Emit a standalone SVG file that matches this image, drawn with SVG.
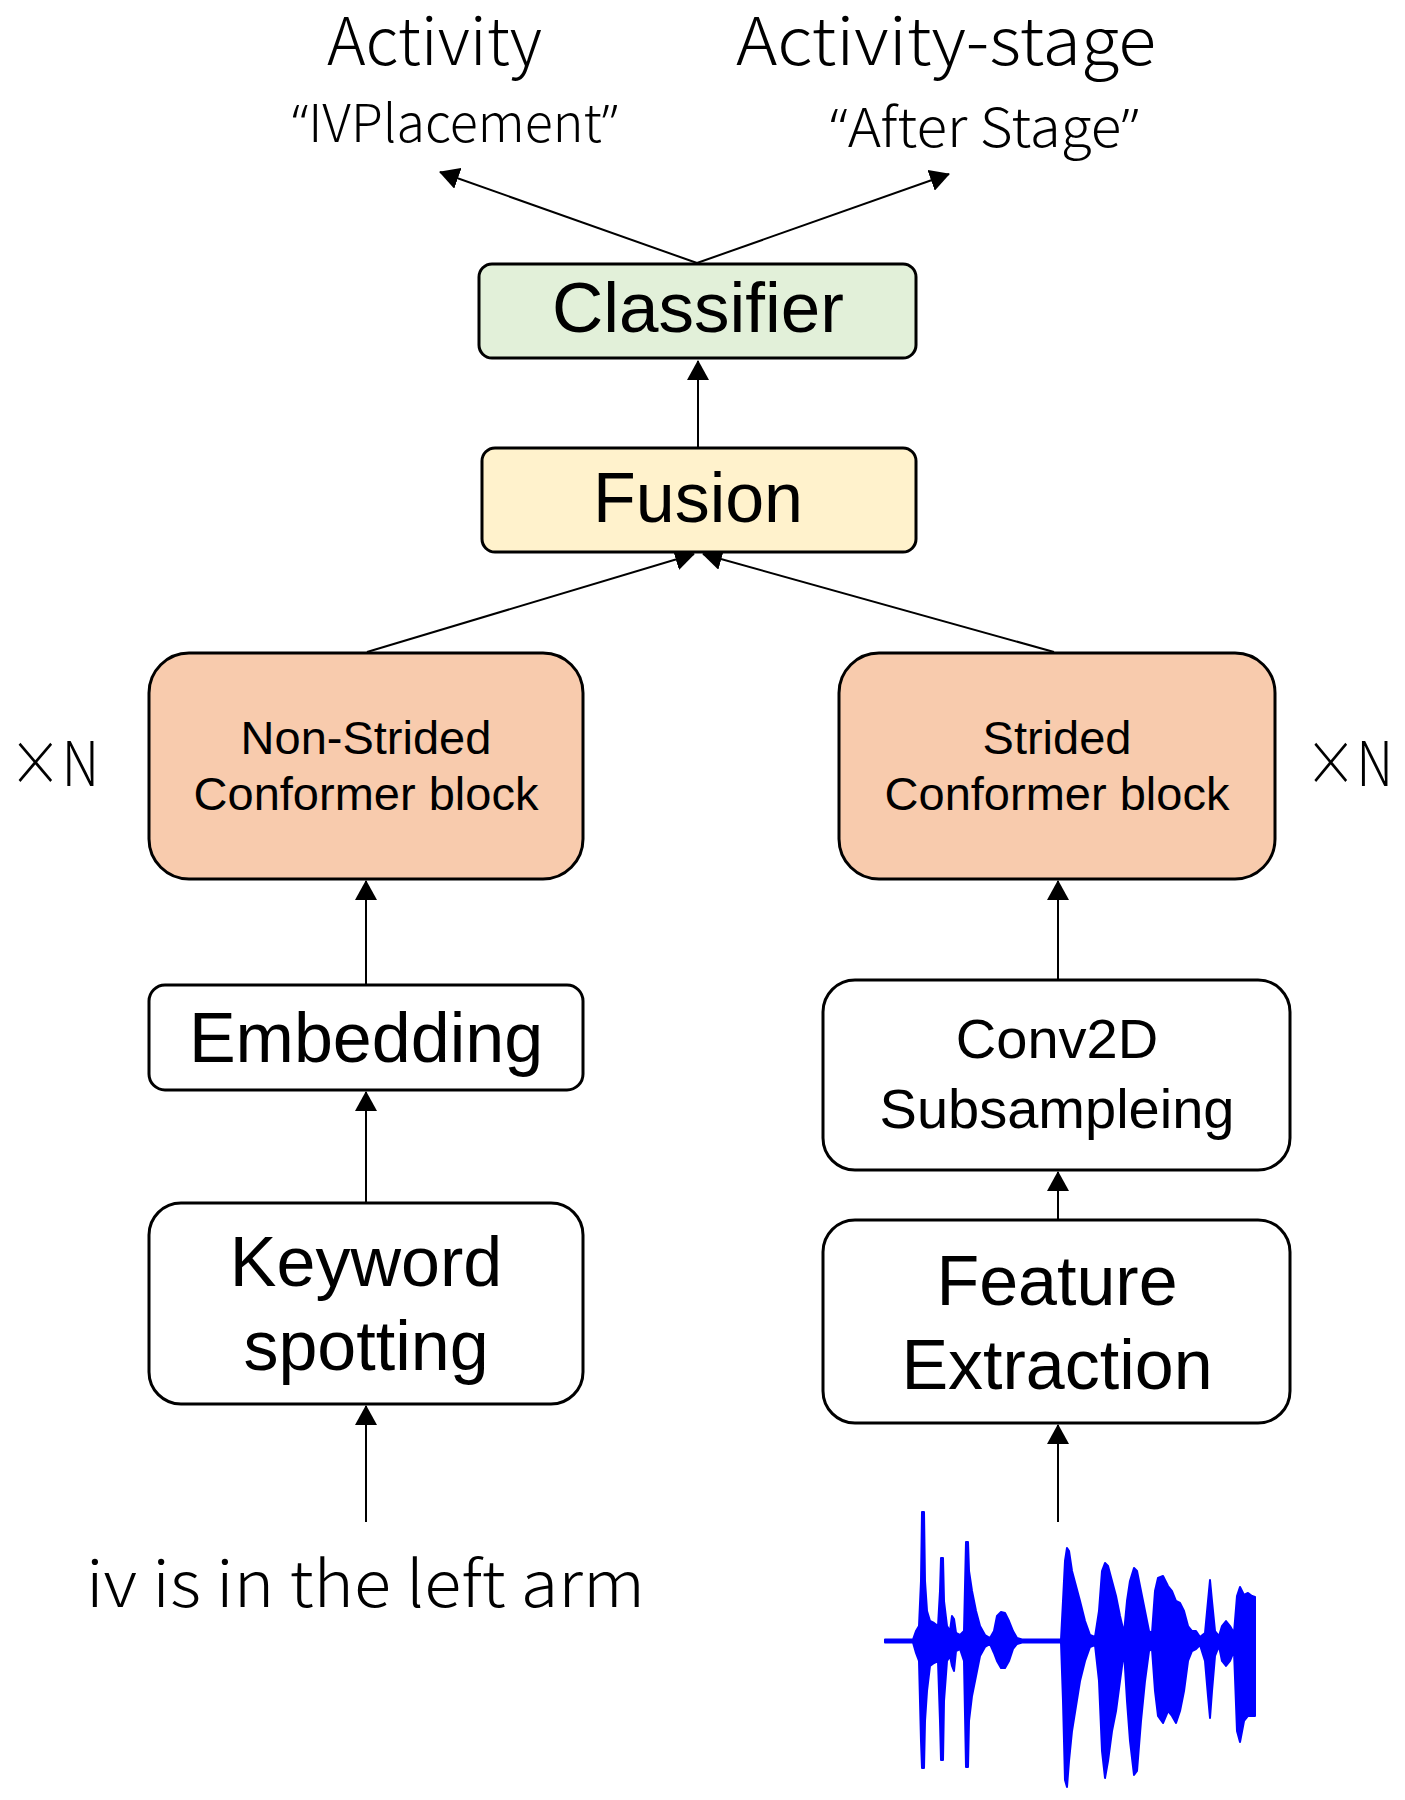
<svg xmlns="http://www.w3.org/2000/svg" width="1405" height="1800" viewBox="0 0 1405 1800">
<style>
.box{stroke:#000;stroke-width:3}
.w{fill:#fff}
.cls{fill:#e2f0d9}
.fus{fill:#fff2cc}
.conf{fill:#f8cbad}
.t{font-family:"Liberation Sans",Arial,sans-serif;fill:#000;text-anchor:middle}
.l{font-family:"Noto Sans CJK SC","Noto Sans",sans-serif;font-weight:300;fill:#000}
.q{font-family:"Noto Sans","Liberation Sans",sans-serif;font-weight:300}
.c{stroke:#000;stroke-width:2;fill:none;marker-end:url(#ah)}
</style>
<defs>
<marker id="ah" viewBox="0 0 20 22" markerWidth="20" markerHeight="22" refX="19" refY="11" orient="auto" markerUnits="userSpaceOnUse">
<path d="M0,0 L20,11 L0,22 Z" fill="#000"/>
</marker>
</defs>
<rect width="1405" height="1800" fill="#fff"/>

<g id="labels">
<text class="l" x="327" y="65" font-size="66" textLength="215" lengthAdjust="spacingAndGlyphs">Activity</text>
<text class="l" x="736" y="65" font-size="66" textLength="420" lengthAdjust="spacingAndGlyphs">Activity-stage</text>
<text class="l" x="292" y="142" font-size="52" textLength="326" lengthAdjust="spacingAndGlyphs"><tspan class="q">“</tspan>IVPlacement<tspan class="q">”</tspan></text>
<text class="l" x="830" y="147" font-size="54" textLength="309" lengthAdjust="spacingAndGlyphs"><tspan class="q">“</tspan>After Stage<tspan class="q">”</tspan></text>
<text class="l" x="9" y="786" font-size="62" textLength="90" lengthAdjust="spacingAndGlyphs">×N</text>
<text class="l" x="1305" y="786" font-size="62" textLength="88" lengthAdjust="spacingAndGlyphs">×N</text>
<text class="l" x="86" y="1607" font-size="64" textLength="559" lengthAdjust="spacingAndGlyphs">iv is in the left arm</text>
</g>

<g id="connectors">
<line class="c" x1="697" y1="263" x2="440" y2="172"/>
<line class="c" x1="697" y1="263" x2="949" y2="174"/>
<line class="c" x1="698" y1="448" x2="698" y2="361"/>
<line class="c" x1="367" y1="652" x2="694" y2="554"/>
<line class="c" x1="1054" y1="652" x2="703" y2="554"/>
<line class="c" x1="366" y1="985" x2="366" y2="881"/>
<line class="c" x1="366" y1="1203" x2="366" y2="1092"/>
<line class="c" x1="366" y1="1522" x2="366" y2="1406"/>
<line class="c" x1="1058" y1="980" x2="1058" y2="881"/>
<line class="c" x1="1058" y1="1220" x2="1058" y2="1172"/>
<line class="c" x1="1058" y1="1522" x2="1058" y2="1425"/>
</g>

<g id="classifier">
<rect class="box cls" x="479" y="264" width="437" height="94" rx="13"/>
<text class="t" x="698" y="332" font-size="71">Classifier</text>
</g>
<g id="fusion">
<rect class="box fus" x="482" y="448" width="434" height="104" rx="13"/>
<text class="t" x="698" y="522" font-size="70">Fusion</text>
</g>
<g id="nonstrided">
<rect class="box conf" x="149" y="653" width="434" height="226" rx="40"/>
<text class="t" x="366" y="754" font-size="47">Non-Strided</text>
<text class="t" x="366" y="810" font-size="47">Conformer block</text>
</g>
<g id="strided">
<rect class="box conf" x="839" y="653" width="436" height="226" rx="40"/>
<text class="t" x="1057" y="754" font-size="47">Strided</text>
<text class="t" x="1057" y="810" font-size="47">Conformer block</text>
</g>
<g id="embedding">
<rect class="box w" x="149" y="985" width="434" height="105" rx="16"/>
<text class="t" x="366" y="1062" font-size="70">Embedding</text>
</g>
<g id="keyword">
<rect class="box w" x="149" y="1203" width="434" height="201" rx="32"/>
<text class="t" x="366" y="1286" font-size="70">Keyword</text>
<text class="t" x="366" y="1370" font-size="70">spotting</text>
</g>
<g id="conv2d">
<rect class="box w" x="823" y="980" width="467" height="190" rx="32"/>
<text class="t" x="1057" y="1058" font-size="56">Conv2D</text>
<text class="t" x="1057" y="1128" font-size="56">Subsampleing</text>
</g>
<g id="feature">
<rect class="box w" x="823" y="1220" width="467" height="203" rx="32"/>
<text class="t" x="1057" y="1305" font-size="70">Feature</text>
<text class="t" x="1057" y="1389" font-size="70">Extraction</text>
</g>

<g id="waveform">
<path fill="#0000ff" stroke="#0000ff" stroke-width="2" stroke-linejoin="round" d="M885,1639.5 L913,1639.5 L916,1631 L919,1626 L921,1581 L922,1512 L924,1512 L925,1581 L927,1611 L930,1621 L934,1623 L938,1626 L940,1591 L941,1558 L943,1558 L944,1601 L947,1626 L950,1631 L952,1616 L954,1619 L956,1633 L960,1635 L964,1631 L966,1542 L968,1542 L969,1571 L972,1591 L976,1611 L980,1626 L985,1635 L990,1638 L994,1631 L997,1616 L1001,1612 L1005,1613 L1009,1621 L1013,1631 L1017,1638 L1022,1639.5 L1061,1639.5 L1063,1601 L1065,1561 L1067,1548 L1069,1551 L1072,1571 L1076,1586 L1080,1601 L1085,1621 L1090,1635 L1095,1637 L1099,1611 L1102,1571 L1105,1563 L1108,1566 L1112,1581 L1116,1596 L1120,1616 L1124,1633 L1127,1601 L1130,1581 L1134,1568 L1137,1571 L1141,1591 L1145,1611 L1149,1631 L1152,1633 L1155,1591 L1158,1578 L1163,1576 L1168,1586 L1172,1591 L1176,1601 L1180,1603 L1184,1611 L1188,1626 L1192,1631 L1196,1631 L1200,1637 L1205,1633 L1208,1601 L1210,1580 L1212,1601 L1215,1631 L1219,1636 L1222,1626 L1226,1621 L1230,1626 L1234,1633 L1237,1596 L1240,1587 L1244,1595 L1248,1593 L1252,1596 L1255,1597 L1255,1716 L1252,1716 L1248,1716 L1244,1721 L1240,1742 L1237,1731 L1234,1651 L1230,1661 L1226,1666 L1222,1661 L1219,1646 L1215,1656 L1212,1691 L1210,1718 L1208,1696 L1205,1661 L1200,1645 L1196,1649 L1192,1651 L1188,1661 L1184,1691 L1180,1711 L1176,1723 L1172,1716 L1168,1711 L1163,1723 L1158,1716 L1155,1691 L1152,1649 L1149,1651 L1145,1681 L1141,1721 L1137,1771 L1134,1775 L1130,1741 L1127,1701 L1124,1651 L1120,1681 L1116,1711 L1112,1731 L1108,1761 L1105,1778 L1102,1751 L1099,1681 L1095,1645 L1090,1647 L1085,1661 L1080,1681 L1076,1706 L1072,1731 L1069,1761 L1067,1787 L1065,1780 L1063,1701 L1061,1642.5 L1022,1642.5 L1017,1644 L1013,1649 L1009,1661 L1005,1668 L1001,1668 L997,1661 L994,1653 L990,1644 L985,1647 L980,1656 L976,1676 L972,1696 L969,1721 L968,1767 L966,1767 L964,1661 L960,1649 L956,1651 L954,1671 L952,1666 L950,1656 L947,1661 L944,1701 L943,1760 L941,1760 L940,1721 L938,1661 L934,1663 L930,1666 L927,1691 L925,1721 L924,1768 L922,1768 L921,1741 L919,1661 L916,1653 L913,1642.5 L885,1642.5 Z"/>
</g>
</svg>
